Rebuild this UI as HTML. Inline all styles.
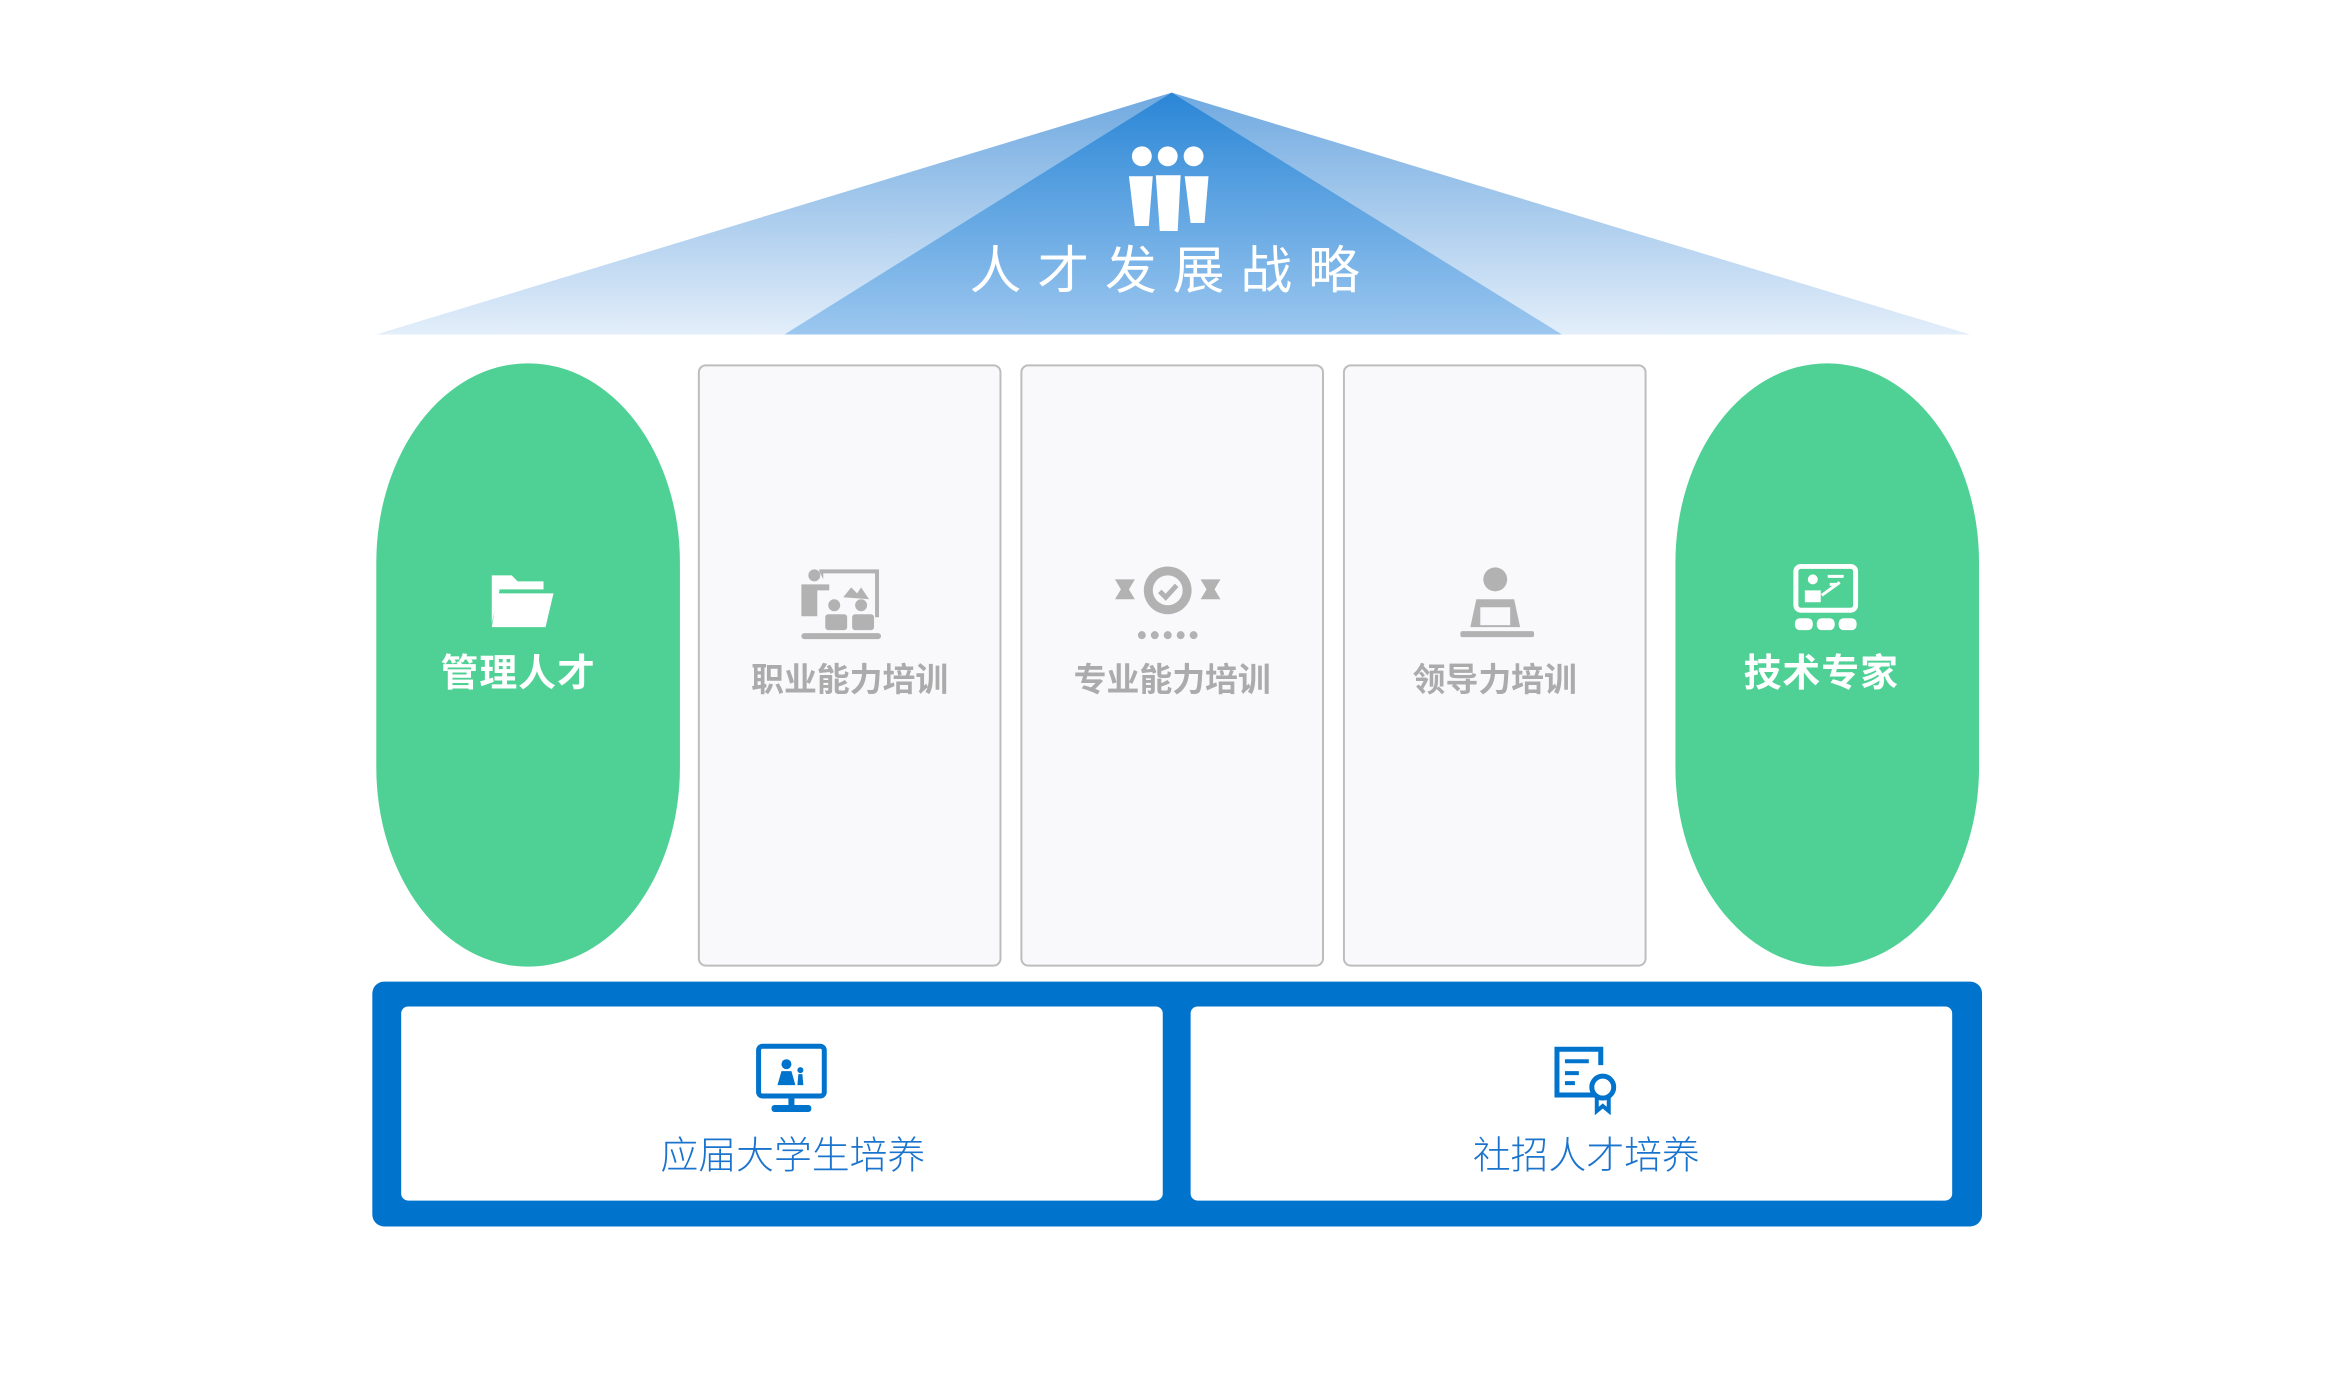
<!DOCTYPE html>
<html><head><meta charset="utf-8"><style>
body{margin:0;width:2343px;height:1377px;background:#fff;position:relative;overflow:hidden;font-family:"Liberation Sans","Noto Sans CJK SC",sans-serif}
#w{position:absolute;left:0;top:0;width:2343px;height:1377px;transform:scale(0.9955);transform-origin:0 0}
.a{position:absolute}
.pill{background:#4fd195;border-radius:152px/200px;width:305px;height:606px;top:365px}
.gbox{background:#f9f9fc;border:2px solid #bdbdbd;border-radius:8px;width:301px;height:601px;top:366px}
.gl{color:#fff;font-weight:bold;font-size:38px;text-align:center;width:305px;top:645px;letter-spacing:1px}
.gt{color:#ababab;font-weight:bold;font-size:33px;text-align:center;width:305px;top:656px}
.bt{color:#1a73cc;font-size:38px;text-align:center;top:1130px;font-weight:300}
</style></head><body><div id="w">
<svg class="a" style="left:0;top:0" width="2343" height="400">
<defs>
<linearGradient id="g1" x1="0" y1="0" x2="0" y2="1"><stop offset="0" stop-color="#6fa9e0"/><stop offset="1" stop-color="#e3eefa"/></linearGradient>
<linearGradient id="g2" x1="0" y1="0" x2="0" y2="1"><stop offset="0" stop-color="#2a86d6"/><stop offset="1" stop-color="#9cc7ef"/></linearGradient>
</defs>
<polygon points="1177,93 378,336 1979,336" fill="url(#g1)"/>
<polygon points="1177,93 788,336 1569,336" fill="url(#g2)"/>
<g fill="#fff">
<circle cx="1147" cy="157" r="10"/><circle cx="1173" cy="157" r="10"/><circle cx="1199" cy="157" r="10"/>
<path d="M1134,177 h24 l-4,50 h-14 z"/><path d="M1161,176 h25 l-3,56 h-18 z"/><path d="M1190,177 h24 l-4,47 h-14 z"/>
</g>
<text x="1178" y="290" fill="#fff" font-size="52" text-anchor="middle" letter-spacing="16" font-family="Liberation Sans, Noto Sans CJK SC, sans-serif">人才发展战略</text>
</svg>

<div class="a pill" style="left:378px"></div>
<div class="a pill" style="left:1683px"></div>
<div class="a gbox" style="left:701px"></div>
<div class="a gbox" style="left:1025px"></div>
<div class="a gbox" style="left:1349px"></div>

<svg class="a" style="left:490px;top:572px" width="68" height="60"><path d="M4,6 h20 l6,6 h26 v8 h-44 l-8,34 z" fill="#fff"/><path d="M10,24 h56 l-8,34 h-54 z" fill="#fff"/></svg>
<div class="a gl" style="left:368px">管理人才</div>
<svg class="a" style="left:1800px;top:565px" width="70" height="70" fill="none" stroke="#fff" stroke-width="5"><rect x="4" y="4" width="60" height="44" rx="5"/><circle cx="21" cy="17" r="5" fill="#fff" stroke="none"/><path d="M13,40 v-12 h16 v12" fill="#fff" stroke="none"/><path d="M30,33 L48,20 M36,14 h16 M38,22 h8" stroke-width="3"/><g fill="#fff" stroke="none"><rect x="3" y="56" width="18" height="12" rx="5"/><rect x="25" y="56" width="18" height="12" rx="5"/><rect x="47" y="56" width="18" height="12" rx="5"/></g></svg>
<div class="a gl" style="left:1677px">技术专家</div>

<svg class="a" style="left:775px;top:568px" width="130" height="80" fill="#b2b2b2"><circle cx="43" cy="10" r="6"/><path d="M30,19 h28 v6 h-12 v26 h-16 z"/><path d="M48,6 v-2 h60 v48 h-4 v-44 h-52 v6 z"/><path d="M72,32 l8,-10 l6,6 l4,-6 l8,12 z"/><circle cx="63" cy="40" r="6"/><circle cx="90" cy="40" r="6"/><rect x="54" y="49" width="22" height="16" rx="3"/><rect x="81" y="49" width="22" height="16" rx="3"/><rect x="30" y="68" width="80" height="6" rx="3"/></svg>
<svg class="a" style="left:1118px;top:567px" width="110" height="80" fill="#b2b2b2"><path d="M2,15 h20 l-6,10 l6,10 h-20 l6,-10z M108,15 h-20 l6,10 l-6,10 h20 l-6,-10z"/><circle cx="55" cy="26" r="24"/><circle cx="55" cy="26" r="15" fill="#f9f9fc"/><path d="M47,27 l6,6 l11,-12" stroke="#b2b2b2" stroke-width="5" fill="none"/><g><circle cx="29" cy="71" r="4"/><circle cx="42" cy="71" r="4"/><circle cx="55" cy="71" r="4"/><circle cx="68" cy="71" r="4"/><circle cx="81" cy="71" r="4"/></g></svg>
<svg class="a" style="left:1465px;top:568px" width="80" height="80" fill="#b2b2b2"><circle cx="37" cy="14" r="12"/><path d="M18,34 h38 l6,28 h-50z"/><rect x="22" y="42" width="30" height="18" fill="#f9f9fc"/><rect x="2" y="66" width="74" height="6" rx="2"/></svg>
<div class="a gt" style="left:701px">职业能力培训</div>
<div class="a gt" style="left:1025px">专业能力培训</div>
<div class="a gt" style="left:1349px">领导力培训</div>

<div class="a" style="left:374px;top:986px;width:1617px;height:246px;background:#0073cc;border-radius:12px"></div>
<div class="a" style="left:403px;top:1011px;width:765px;height:195px;background:#fff;border-radius:7px"></div>
<div class="a" style="left:1196px;top:1011px;width:765px;height:195px;background:#fff;border-radius:7px"></div>
<svg class="a" style="left:759px;top:1048px" width="74" height="72" fill="#0073cc"><rect x="3" y="3" width="66" height="50" rx="4" fill="none" stroke="#0073cc" stroke-width="5"/><circle cx="31" cy="21" r="5"/><path d="M22,42 l4,-14 h10 l4,14z"/><circle cx="45" cy="27" r="3"/><path d="M42,42 l1,-11 h4 l1,11z"/><rect x="33" y="53" width="6" height="10"/><rect x="16" y="62" width="40" height="7" rx="3"/></svg>
<svg class="a" style="left:1560px;top:1050px" width="70" height="72" fill="none" stroke="#0073cc" stroke-width="5"><path d="M42,50 h-38 v-46 h44 v16"/><path d="M12,16 h24 M12,28 h14 M12,38 h10" stroke-width="4"/><circle cx="50" cy="42" r="11"/><path d="M44,52 v14 l6,-5 l6,5 v-14" stroke-width="4"/></svg>
<div class="a bt" style="left:414px;width:765px">应届大学生培养</div>
<div class="a bt" style="left:1211px;width:765px">社招人才培养</div>
</div></body></html>
